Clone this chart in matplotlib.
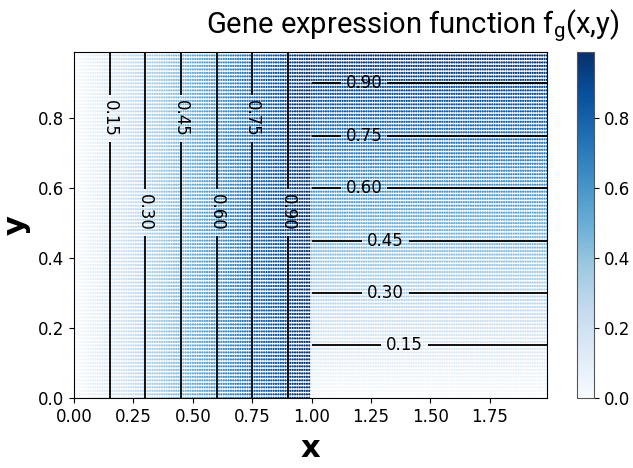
import numpy as np
import matplotlib.pyplot as plt

# grid on which the expression function is sampled
x_vals = np.arange(0, 200) / 100.0   # 0.00 .. 1.99
y_vals = np.arange(0, 100) / 100.0   # 0.00 .. 0.99
switch_x = 1.0                        # f = x left of this, f = y right of it
levels = [0.15, 0.30, 0.45, 0.60, 0.75, 0.90]
x_ticks = [0.00, 0.25, 0.50, 0.75, 1.00, 1.25, 1.50, 1.75]
y_ticks = [0.0, 0.2, 0.4, 0.6, 0.8]
cbar_ticks = [0.0, 0.2, 0.4, 0.6, 0.8]

X, Y = np.meshgrid(x_vals, y_vals)
F = np.where(X < switch_x, X, Y)
left = X[0] < switch_x

fig = plt.figure(figsize=(6.33, 4.68), dpi=100)
ax = fig.add_axes([0.117, 0.150, 0.747, 0.739])
cax = fig.add_axes([0.912, 0.150, 0.027, 0.739])

sc = ax.scatter(X.ravel(), Y.ravel(), c=F.ravel(), cmap='Blues',
                vmin=0, vmax=F.max(), s=2.6, marker='o', linewidths=0)

# contour each branch separately (no line along the jump at x = 1)
cs_left = ax.contour(X[:, left], Y[:, left], F[:, left], levels=levels,
                     colors='black', linewidths=1.3)
cs_right = ax.contour(X[:, ~left], Y[:, ~left], F[:, ~left], levels=levels,
                      colors='black', linewidths=1.3)

ax.clabel(cs_left, fmt='%.2f', fontsize=12, inline=True,
          manual=[(0.15, 0.80), (0.30, 0.53), (0.45, 0.80),
                  (0.60, 0.53), (0.75, 0.80), (0.90, 0.53)])
ax.clabel(cs_right, fmt='%.2f', fontsize=12, inline=True,
          manual=[(1.22, 0.90), (1.22, 0.75), (1.22, 0.60),
                  (1.31, 0.45), (1.31, 0.30), (1.39, 0.15)])

ax.set_xlim(0, x_vals.max())
ax.set_ylim(0, y_vals.max())
ax.set_xticks(x_ticks)
ax.set_yticks(y_ticks)
ax.tick_params(labelsize=12)
ax.set_xlabel('x', fontsize=22, fontweight='bold', labelpad=6)
ax.set_ylabel('y', fontsize=22, fontweight='bold', labelpad=5)

cb = fig.colorbar(sc, cax=cax)
cb.set_ticks(cbar_ticks)
cb.ax.tick_params(labelsize=12)
cb.outline.set_edgecolor('#555555')

fig.text(0.652, 0.945, r'Gene expression function f$_\mathregular{g}$(x,y)',
         ha='center', va='center', fontsize=21, family='Roboto')

fig.savefig('out.png', dpi=100)
